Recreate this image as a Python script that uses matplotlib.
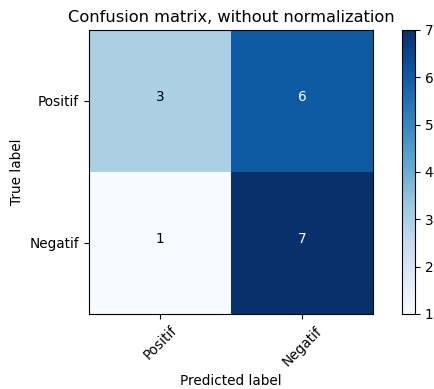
import numpy as np
import matplotlib
matplotlib.use("Agg")
import matplotlib.pyplot as plt

classes = ["Positif", "Negatif"]
cm = np.array([[3, 6],
               [1, 7]])

fig = plt.figure(figsize=(4.34, 3.89), dpi=100)
ax = fig.add_axes([0.205, 0.193, 0.654, 0.730])
cax = fig.add_axes([0.926, 0.193, 0.030, 0.730])

im = ax.imshow(cm, interpolation="nearest", cmap=plt.cm.Blues)
ax.set_title("Confusion matrix, without normalization", fontsize=11.7)
cb = fig.colorbar(im, cax=cax)
cb.ax.tick_params(labelsize=9.8)

ticks = np.arange(len(classes))
ax.set_xticks(ticks)
ax.set_xticklabels(classes, rotation=45, fontsize=9.8)
ax.set_yticks(ticks)
ax.set_yticklabels(classes, fontsize=9.8)

thresh = cm.max() / 2.
for i in range(cm.shape[0]):
    for j in range(cm.shape[1]):
        ax.text(j, i, format(cm[i, j], "d"),
                horizontalalignment="center", fontsize=9.8,
                color="white" if cm[i, j] > thresh else "black")

ax.set_ylabel("True label", fontsize=9.8)
ax.set_xlabel("Predicted label", fontsize=9.8)

fig.savefig("out.png", dpi=100)
